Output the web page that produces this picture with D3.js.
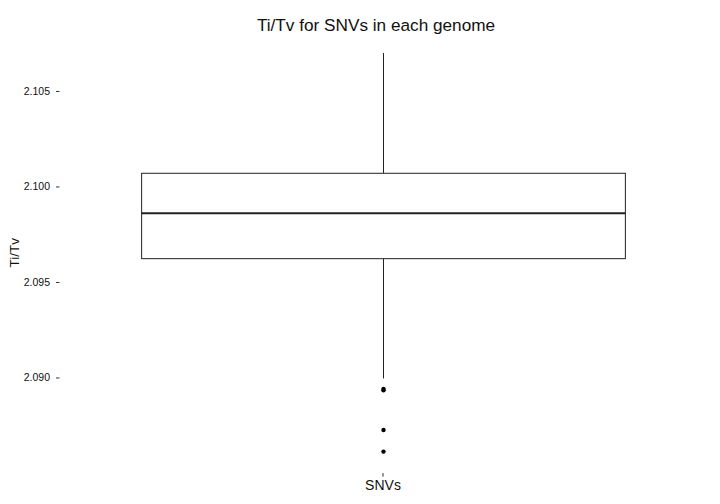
<!DOCTYPE html>
<html><head><meta charset="utf-8">
<script src="https://cdn.jsdelivr.net/npm/d3@7"></script>
<style>body{margin:0;background:#fff}svg{display:block}text{font-family:"Liberation Sans",Arial,Helvetica,sans-serif}</style>
</head><body>
<script>
const categories = ["SNVs"];
const q1 = [2.09622];
const median = [2.09860];
const q3 = [2.10069];
const whiskerLow = [2.08995];
const whiskerHigh = [2.10699];
const outliers = [[2.08940, 2.08933, 2.08725, 2.08612]];
const yTicks = [2.090, 2.095, 2.100, 2.105];

const W = 720, H = 504;
const m = {left: 60.5, right: 14.5, top: 32.9, bottom: 31.4};
const svg = d3.select("body").append("svg").attr("width", W).attr("height", H);

const yS = d3.scaleLinear().domain([2.08502, 2.10804]).range([H - m.bottom, m.top]);
const xS = d3.scaleBand().domain(categories).range([m.left, W - m.right]).padding(0);
// ggplot-like: discrete expansion 0.6 units each side; box width 0.9
const bw = xS.bandwidth() / 1.2 * 0.9;

const g = svg.append("g");
categories.forEach((c, i) => {
  const cx = Math.round(xS(c) + xS.bandwidth() / 2) + 0.5;
  g.append("line").attr("x1", cx).attr("x2", cx).attr("y1", yS(whiskerHigh[i])).attr("y2", yS(q3[i])).attr("stroke", "#222").attr("stroke-width", 1);
  g.append("line").attr("x1", cx).attr("x2", cx).attr("y1", yS(q1[i])).attr("y2", yS(whiskerLow[i])).attr("stroke", "#222").attr("stroke-width", 1);
  g.append("rect").attr("x", cx - bw / 2).attr("width", bw).attr("y", yS(q3[i])).attr("height", yS(q1[i]) - yS(q3[i])).attr("fill", "#fff").attr("stroke", "#222").attr("stroke-width", 1);
  g.append("line").attr("x1", cx - bw / 2).attr("x2", cx + bw / 2).attr("y1", yS(median[i])).attr("y2", yS(median[i])).attr("stroke", "#222").attr("stroke-width", 2);
  g.selectAll(null).data(outliers[i]).enter().append("circle").attr("cx", cx).attr("cy", d => yS(d)).attr("r", 2.2).attr("fill", "#000");
});

// y axis
const yAx = svg.append("g").attr("transform", `translate(${m.left - 1},0)`)
  .call(d3.axisLeft(yS).tickValues(yTicks).tickFormat(d3.format(".3f")).tickSize(3.5).tickPadding(6));
yAx.select(".domain").remove();
yAx.selectAll("line").attr("stroke", "#333");
yAx.selectAll("text").attr("font-size", 10.5).attr("fill", "#111");

// x axis
const xAx = svg.append("g").attr("transform", `translate(0,${H - m.bottom + 0.5})`)
  .call(d3.axisBottom(xS).tickSize(3.5).tickPadding(3));
xAx.select(".domain").remove();
xAx.selectAll("line").attr("stroke", "#333");
xAx.selectAll("text").attr("font-size", 14).attr("fill", "#111");

svg.append("text").attr("x", 376).attr("y", 31).attr("text-anchor", "middle").attr("font-size", 17.2).attr("fill", "#111").text("Ti/Tv for SNVs in each genome");
svg.append("text").attr("transform", `translate(19,${(m.top + H - m.bottom) / 2}) rotate(-90)`).attr("text-anchor", "middle").attr("font-size", 13.4).attr("fill", "#111").text("Ti/Tv");
</script>
</body></html>
